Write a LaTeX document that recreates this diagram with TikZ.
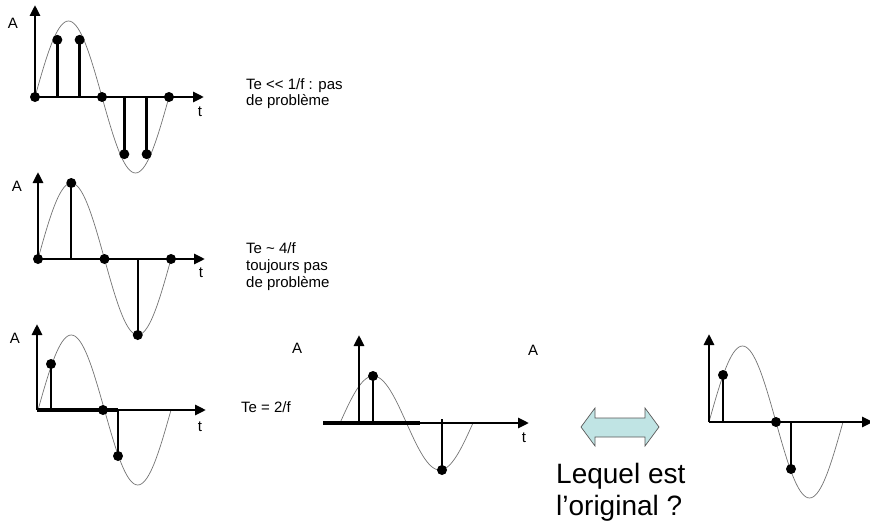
\documentclass[tikz,border=0pt]{standalone}
\usepackage{fontspec}
\setmainfont{Liberation Sans}
\usetikzlibrary{arrows.meta}
\definecolor{arrowcyan}{RGB}{192,228,228}

\begin{document}
\begin{tikzpicture}[x=1pt,y=-1pt,>={Triangle[length=11pt,width=10pt]},
        axis/.style={line width=2.8pt,->},
        hold/.style={line width=3.6pt},
        wave/.style={black!55,line width=0.7pt,domain=0:360,samples=73,smooth},
        stem/.style={line width=2.4pt},
        smp/.style={circle,fill=black,inner sep=0pt,minimum size=10pt},
        lbl/.style={font=\fontsize{15}{17}\selectfont,inner sep=0pt}]
    \useasboundingbox (0,0) rectangle (870,527);

    % Te << 1/f
    \draw[wave] plot ({35+\x/360*134},{97-76*sin(\x)});
    \draw[axis] (35,97) -- (35,5);
    \draw[axis] (35,97) -- (204,97);
    \foreach \k in {0,...,6}
        \draw[stem] (35+\k*22.33,97) -- (35+\k*22.33,{97-66*sin(60*\k)}) node (s1-\k) [smp] {};
    \node (a1) [lbl] at (13,23) {A};
    \node (t1) [lbl] at (200,112) {t};
    \node (note1) [lbl,anchor=base west,align=left] at (246,106) {Te <{}< 1/f : pas\\de problème};

    % Te ~ T/4
    \draw[wave] plot ({38+\x/360*133},{259-76*sin(\x)});
    \draw[axis] (38,259) -- (38,172);
    \draw[axis] (38,259) -- (205,259);
    \foreach \k in {0,...,4}
        \draw[stem] (38+\k*33.25,259) -- (38+\k*33.25,{259-76*sin(90*\k)}) node (s2-\k) [smp] {};
    \node (a2) [lbl] at (17,186) {A};
    \node (t2) [lbl] at (201,273) {t};
    \node (note2) [lbl,anchor=base west,align=left] at (246,287) {Te \textasciitilde{} 4/f\\toujours pas\\de problème};

    % Te = T/2
    \draw[wave] plot ({38+\x/360*133},{410-75*sin(\x)});
    \draw[axis] (37,410) -- (37,324);
    \draw[axis] (37,410) -- (206,410);
    \draw[hold] (37,410) -- (118,410);
    \draw[stem] (51,410) -- (51,364) node (s3-1) [smp] {};
    \draw[stem] (118,410) -- (118,456) node (s3-2) [smp] {};
    \node (s3-0) [smp] at (103,410) {};
    \node (a3) [lbl] at (15,338) {A};
    \node (t3) [lbl] at (200,427) {t};
    \node (note3) [lbl,anchor=base west] at (241,412) {Te = 2/f};

    % first candidate
    \draw[wave] plot ({340+\x/360*133},{423-47*sin(\x)});
    \draw[axis] (359,423) -- (359,335);
    \draw[axis] (323,423) -- (529,423);
    \draw[hold] (323,423) -- (420,423);
    \draw[stem] (373,423) -- (373,376) node (s4-1) [smp] {};
    \draw[stem] (442,419) -- (442,470) node (s4-2) [smp] {};
    \node (a4) [lbl] at (297,348) {A};
    \node (a5) [lbl] at (533,350) {A};
    \node (t4) [lbl] at (524,438) {t};

    % second candidate
    \draw[wave] plot ({709+\x/360*134},{422-76*sin(\x)});
    \draw[axis] (709,422) -- (709,334);
    \draw[axis] (709,422) -- (873,422);
    \draw[stem] (723,422) -- (723,375) node (s5-1) [smp] {};
    \draw[stem] (791,422) -- (791,469) node (s5-2) [smp] {};
    \node (s5-0) [smp] at (776,422) {};

    % swap arrow
    \filldraw[draw=black!65,fill=arrowcyan,line width=0.7pt]
        (581,427) -- (595,408) -- (595,418) -- (645,418) -- (645,408) -- (659,427)
        -- (645,446) -- (645,437) -- (595,437) -- (595,446) -- cycle;
    \node (ask) [font=\fontsize{28}{32}\selectfont,anchor=base west,align=left,inner sep=0pt]
        at (556,515) {Lequel est\\l’original ?};
\end{tikzpicture}
\end{document}
